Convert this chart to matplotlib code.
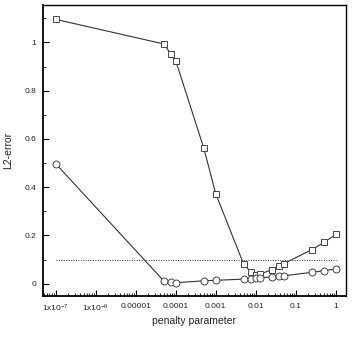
import matplotlib
matplotlib.use("Agg")
import matplotlib.pyplot as plt
from matplotlib.ticker import FixedLocator, LogLocator, NullFormatter, MultipleLocator

plt.rcParams['font.family'] = ['Liberation Sans', 'DejaVu Sans']
plt.rcParams['mathtext.fontset'] = 'custom'
plt.rcParams['mathtext.rm'] = 'Liberation Sans'
plt.rcParams['mathtext.it'] = 'Liberation Sans'

# data
sq_x = [1e-7, 5e-5, 7.5e-5, 1e-4, 5e-4, 1e-3, 5e-3, 7.5e-3, 1e-2, 1.25e-2, 2.5e-2, 3.75e-2, 5e-2, 0.25, 0.5, 1.0]
sq_y = [1.096, 0.994, 0.954, 0.925, 0.563, 0.373, 0.080, 0.049, 0.035, 0.039, 0.058, 0.072, 0.083, 0.141, 0.171, 0.204]
ci_x = [1e-7, 5e-5, 7.5e-5, 1e-4, 5e-4, 1e-3, 5e-3, 7.5e-3, 1e-2, 1.25e-2, 2.5e-2, 3.75e-2, 5e-2, 0.25, 0.5, 1.0]
ci_y = [0.498, 0.012, 0.005, 0.004, 0.012, 0.014, 0.019, 0.019, 0.022, 0.025, 0.028, 0.031, 0.033, 0.047, 0.054, 0.061]
ref_x = [1e-7, 1.0]
ref_y = [0.1, 0.1]
xtick_vals = [1e-7, 1e-6, 1e-5, 1e-4, 1e-3, 1e-2, 1e-1, 1]
xtick_labels = ['1x10$^{-7}$', '1x10$^{-6}$', '0.00001', '0.0001', '0.001', '0.01', '0.1', '1']
ytick_vals = [0, 0.2, 0.4, 0.6, 0.8, 1.0]
ytick_labels = ['0', '0.2', '0.4', '0.6', '0.8', '1']

fig = plt.figure(figsize=(3.54, 3.40), dpi=100)
ax = fig.add_axes([0.1215, 0.1294, 0.8555, 0.8556])

ax.plot(ref_x, ref_y, linestyle=(0, (1, 1.5)), color='#333333', linewidth=0.7)
ax.plot(sq_x, sq_y, color='#333333', linewidth=0.8, marker='s', markersize=4.5,
        markerfacecolor='white', markeredgecolor='#444444', markeredgewidth=0.7)
ax.plot(ci_x, ci_y, color='#333333', linewidth=0.8, marker='o', markersize=5,
        markerfacecolor='white', markeredgecolor='#444444', markeredgewidth=0.7)

ax.set_xscale('log')
ax.set_xlim(10**-7.314, 10**0.249)
ax.set_ylim(-0.051, 1.155)

ax.xaxis.set_major_locator(FixedLocator(xtick_vals))
ax.set_xticklabels(xtick_labels)
ax.xaxis.set_minor_locator(LogLocator(base=10, subs=range(2, 10), numticks=20))
ax.xaxis.set_minor_formatter(NullFormatter())
ax.set_yticks(ytick_vals)
ax.set_yticklabels(ytick_labels)
ax.yaxis.set_minor_locator(MultipleLocator(0.1))

ax.tick_params(which='major', direction='in', length=4.5, width=0.8, labelsize=6, pad=5,
               top=False, right=False, labelcolor='#222222')
ax.tick_params(which='minor', direction='in', length=2.5, width=0.6, top=False, right=False)

for s in ax.spines.values():
    s.set_linewidth(1.0)
ax.spines['left'].set_linewidth(1.3)
ax.spines['bottom'].set_linewidth(1.3)

ax.set_xlabel('penalty parameter', fontsize=7.5, labelpad=1.5, color='#222222')
ax.set_ylabel('L2-error', fontsize=7.5, labelpad=8, color='#222222')

fig.savefig('out.png', dpi=100)
